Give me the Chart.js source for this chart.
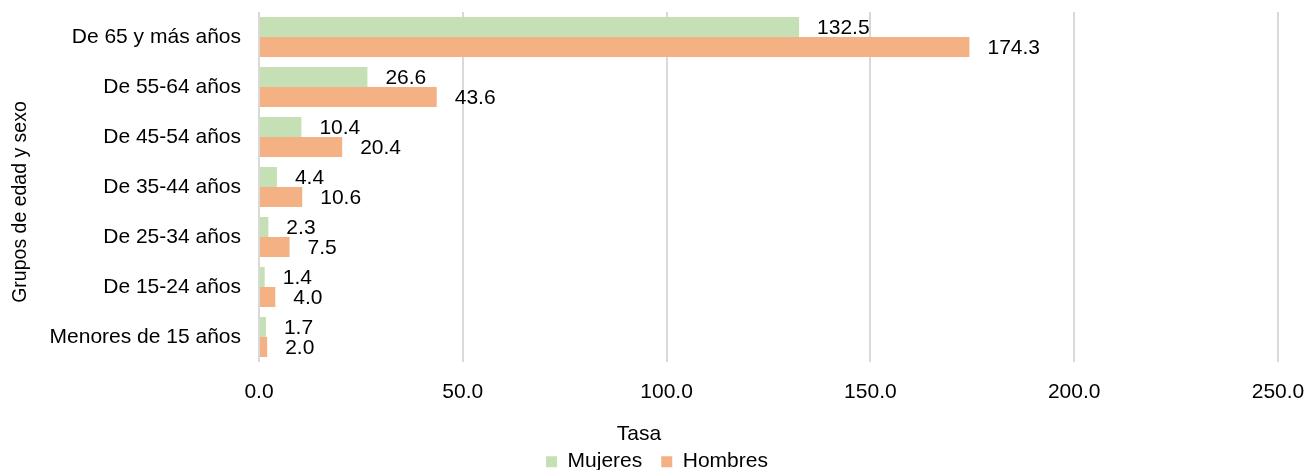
<!DOCTYPE html>
<html>
<head>
<meta charset="utf-8">
<script src="https://cdn.jsdelivr.net/npm/chart.js@4/dist/chart.umd.min.js"></script>
<style>
  html, body { margin: 0; padding: 0; background: #ffffff; }
  #wrap { width: 1309px; height: 470px; }
</style>
</head>
<body>
<div id="wrap"><canvas id="c" width="1309" height="470"></canvas></div>
<script>
// Tasa por grupos de edad y sexo
const categories = [
  'De 65 y más años',
  'De 55-64 años',
  'De 45-54 años',
  'De 35-44 años',
  'De 25-34 años',
  'De 15-24 años',
  'Menores de 15 años'
];
const mujeres = [132.5, 26.6, 10.4, 4.4, 2.3, 1.4, 1.7];
const hombres = [174.3, 43.6, 20.4, 10.6, 7.5, 4.0, 2.0];
const xTicks = [0, 50, 100, 150, 200, 250];

const FONT = '"Liberation Sans", Arial, sans-serif';
const TEXT = '#000000';

// Writes each bar's value just past its end
const valueLabels = {
  id: 'valueLabels',
  afterDatasetsDraw(chart) {
    const ctx = chart.ctx;
    ctx.save();
    ctx.font = '21px ' + FONT;
    ctx.fillStyle = TEXT;
    ctx.textAlign = 'left';
    ctx.textBaseline = 'middle';
    chart.data.datasets.forEach((ds, di) => {
      const meta = chart.getDatasetMeta(di);
      meta.data.forEach((bar, i) => {
        ctx.fillText(ds.data[i].toFixed(1), bar.x + 18, bar.y + 1);
      });
    });
    ctx.restore();
  }
};

// Fine placement of the legend block and of the vertical axis title
const layoutNudge = {
  id: 'layoutNudge',
  afterLayout(chart) {
    const lg = chart.legend;
    if (lg) {
      lg.left += 18; lg.right += 18;
      lg.top -= 15; lg.bottom -= 15;
    }
    // lets the y title sit lower, centred on the plot plus the tick row
    chart.scales.y.bottom += 30;
  }
};

new Chart(document.getElementById('c'), {
  type: 'bar',
  data: {
    labels: categories,
    datasets: [
      { label: 'Mujeres', data: mujeres, backgroundColor: '#C5E0B4', borderWidth: 0,
        categoryPercentage: 0.8, barPercentage: 1.0 },
      { label: 'Hombres', data: hombres, backgroundColor: '#F4B183', borderWidth: 0,
        categoryPercentage: 0.8, barPercentage: 1.0 }
    ]
  },
  options: {
    indexAxis: 'y',
    responsive: false,
    animation: false,
    devicePixelRatio: 1,
    layout: { padding: { top: 12, right: 31, left: 0, bottom: -27.2 } },
    plugins: {
      title: {
        display: true, position: 'bottom', weight: 500,
        text: 'Tasa', color: TEXT,
        font: { family: FONT, size: 21, weight: 'normal' },
        padding: { top: 14, bottom: 0 }
      },
      legend: {
        position: 'bottom',
        labels: {
          boxWidth: 11, boxHeight: 11, padding: 19,
          color: TEXT, font: { family: FONT, size: 21 }
        }
      },
      tooltip: { enabled: false }
    },
    scales: {
      x: {
        min: 0, max: 250,
        afterBuildTicks(scale) { scale.ticks = xTicks.map(v => ({ value: v })); },
        afterFit(scale) {
          scale.height = 46;
          scale.paddingLeft = 0;
          scale.paddingRight = 0;
        },
        grid: { color: '#D9D9D9', lineWidth: 2, drawTicks: false },
        border: { display: false },
        ticks: {
          color: TEXT, font: { family: FONT, size: 21 }, padding: 18,
          callback: v => Number(v).toFixed(1)
        }
      },
      y: {
        afterFit(scale) {
          scale.width = 259;
          scale.paddingTop = 0;
          scale.paddingBottom = 0;
        },
        grid: { display: false, drawTicks: false },
        border: { display: false },
        ticks: { color: TEXT, font: { family: FONT, size: 21 }, padding: 18 },
        title: {
          display: true, text: 'Grupos de edad y sexo', color: TEXT,
          font: { family: FONT, size: 19.5 }, padding: { top: 9, bottom: 0 }
        }
      }
    }
  },
  plugins: [valueLabels, layoutNudge]
});
</script>
</body>
</html>
